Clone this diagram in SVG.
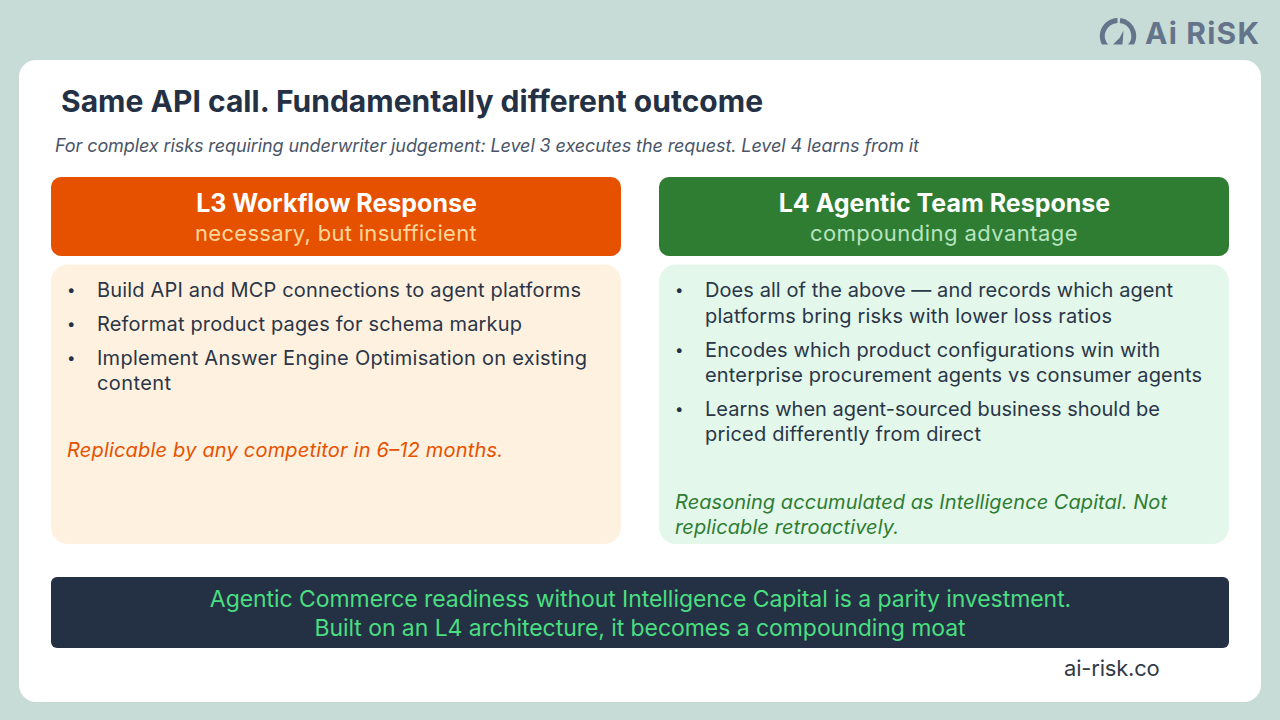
<svg xmlns="http://www.w3.org/2000/svg" width="1280" height="720" viewBox="0 0 1280 720">
<style>
text{font-family:"Inter","Liberation Sans",sans-serif}
.b{font-size:20px;fill:#2a3648}
.d{font-size:15px;fill:#243145}
.h{font-size:25px;font-weight:700;fill:#fff;text-anchor:middle}
.s{font-size:22px;text-anchor:middle;letter-spacing:.3px}
.i{font-size:20px;font-style:italic}
.f{font-size:23px;fill:#4ade80;text-anchor:middle;letter-spacing:-.06px}
</style>
<defs><clipPath id="gauge"><rect x="1095" y="14" width="46" height="30.500"/></clipPath></defs>
<rect width="1280" height="720" fill="#c8dcd7"/>
<g id="logo">
<g clip-path="url(#gauge)" fill="none" stroke="#64748b" stroke-width="5">
<path d="M1108 48 A15.5 15.500 0 0 1 1117.500 20.500"/>
<path d="M1120 20.600 A15.500 15.500 0 0 1 1128 48"/>
</g>
<path d="M1113 44.500 L1119.500 38 L1123.500 30.500 L1122.500 44.500Z" fill="#64748b"/>
<text x="1145" y="44" font-size="30" font-weight="700" fill="#64748b" letter-spacing="1.2">Ai RiSK</text>
</g>
<rect id="panel" x="19" y="60" width="1242" height="642" rx="17" fill="#fff"/>
<text x="61" y="112" font-size="30" font-weight="700" fill="#243145" textLength="702">Same API call. Fundamentally different outcome</text>
<text x="55" y="152" font-size="18" font-style="italic" fill="#4a5568" textLength="864">For complex risks requiring underwriter judgement: Level 3 executes the request. Level 4 learns from it</text>
<g id="l3-header">
<rect x="51" y="177" width="570" height="79" rx="10" fill="#e65100"/>
<text class="h" x="336.500" y="212">L3 Workflow Response</text>
<text class="s" x="336" y="241" fill="#ffd699">necessary, but insufficient</text>
</g>
<g id="l4-header">
<rect x="659" y="177" width="570" height="79" rx="10" fill="#2e7d32"/>
<text class="h" x="944.500" y="212">L4 Agentic Team Response</text>
<text class="s" x="944" y="241" fill="#b7e4c0" style="letter-spacing:.45px">compounding advantage</text>
</g>
<g id="l3-body">
<rect x="51" y="264.500" width="570" height="279.500" rx="17" fill="#fff1df"/>
<text class="d" x="67" y="294.500">•</text><text class="b" x="97" y="297" textLength="484">Build API and MCP connections to agent platforms</text>
<text class="d" x="67" y="328.500">•</text><text class="b" x="97" y="331" textLength="425">Reformat product pages for schema markup</text>
<text class="d" x="67" y="362.500">•</text><text class="b" x="97" y="365" textLength="490">Implement Answer Engine Optimisation on existing</text>
<text class="b" x="97" y="390" textLength="74">content</text>
<text class="i" x="67" y="457" fill="#e65100" textLength="436">Replicable by any competitor in 6–12 months.</text>
</g>
<g id="l4-body">
<rect x="659" y="264.500" width="570" height="279.500" rx="17" fill="#e3f7eb"/>
<text class="d" x="675" y="294.500">•</text><text class="b" x="705" y="297" textLength="468">Does all of the above — and records which agent</text>
<text class="b" x="705" y="323" textLength="407">platforms bring risks with lower loss ratios</text>
<text class="d" x="675" y="354.500">•</text><text class="b" x="705" y="357" textLength="455">Encodes which product configurations win with</text>
<text class="b" x="705" y="382" textLength="497">enterprise procurement agents vs consumer agents</text>
<text class="d" x="675" y="413.500">•</text><text class="b" x="705" y="416" textLength="455">Learns when agent-sourced business should be</text>
<text class="b" x="705" y="441" textLength="276">priced differently from direct</text>
<text class="i" x="675" y="509" fill="#2e7d32" textLength="492">Reasoning accumulated as Intelligence Capital. Not</text>
<text class="i" x="675" y="534" fill="#2e7d32" textLength="224">replicable retroactively.</text>
</g>
<g id="footer">
<rect x="51" y="577" width="1178" height="71" rx="6" fill="#243145"/>
<text class="f" x="640.500" y="607">Agentic Commerce readiness without Intelligence Capital is a parity investment.</text>
<text class="f" x="640" y="636">Built on an L4 architecture, it becomes a compounding moat</text>
</g>
<text x="1064" y="676" font-size="22" fill="#333b47" letter-spacing="-.2">ai-risk.co</text>
</svg>
